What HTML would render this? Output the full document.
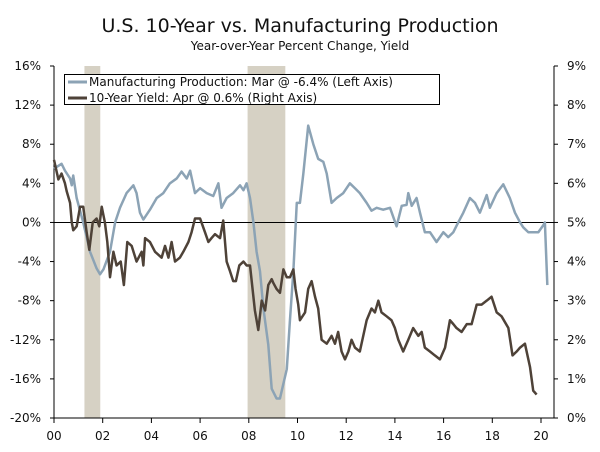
<!DOCTYPE html>
<html><head><meta charset="utf-8"><style>
body{margin:0;background:#fff;}
svg{display:block;font-family:"DejaVu Sans","Liberation Sans",sans-serif;}
</style></head><body>
<svg id="chart" width="600" height="452">
<text x="300" y="32" text-anchor="middle" font-size="19" fill="#111">U.S. 10-Year vs. Manufacturing Production</text>
<text x="300" y="50" text-anchor="middle" font-size="12" fill="#111">Year-over-Year Percent Change, Yield</text>
<g id="bands"></g><g id="axes"></g><g id="lines"></g>
<g>
<rect x="64.5" y="74.5" width="375" height="30" fill="#fff" stroke="#000"/>
<line x1="68" y1="82" x2="87" y2="82" stroke="#8ca3b5" stroke-width="3"/>
<text x="89" y="86" font-size="12" fill="#111">Manufacturing Production: Mar @ -6.4% (Left Axis)</text>
<line x1="68" y1="98" x2="87" y2="98" stroke="#4e4238" stroke-width="3"/>
<text x="89" y="102" font-size="12" fill="#111">10-Year Yield: Apr @ 0.6% (Right Axis)</text>
</g>
</svg>
<script>
const mpYears=[0,.31,.45,.66,.73,.79,.93,1.20,1.48,1.75,1.89,2.03,2.30,2.51,2.71,2.98,3.26,3.39,3.53,3.67,3.94,4.22,4.49,4.76,5.04,5.24,5.45,5.59,5.79,6.00,6.27,6.54,6.75,6.88,7.09,7.36,7.64,7.78,7.91,8.05,8.19,8.32,8.46,8.60,8.80,8.94,9.14,9.28,9.56,9.69,9.83,9.97,10.10,10.24,10.44,10.65,10.85,11.06,11.20,11.40,11.61,11.88,12.15,12.36,12.56,12.84,13.04,13.25,13.52,13.80,14.07,14.28,14.48,14.55,14.69,14.89,15.03,15.23,15.44,15.71,15.99,16.19,16.40,16.60,16.81,17.08,17.29,17.49,17.77,17.90,18.18,18.45,18.72,18.93,19.14,19.27,19.48,19.68,19.89,20.09,20.16,20.26];
const mpValues=[5.5,6,5.3,4.5,3.8,4.8,2.5,0,-3,-4.7,-5.3,-4.8,-3,0,1.5,3,3.8,3,1,0.3,1.3,2.5,3,4,4.5,5.2,4.5,5.3,3,3.5,3,2.7,4,1.5,2.5,3,3.8,3.3,4,2.5,0,-3,-5,-8.8,-12.5,-17,-18,-18,-15,-10,-5,2,2,5,9.9,8,6.5,6.2,5,2,2.5,3,4,3.5,3,2,1.2,1.5,1.3,1.5,-0.4,1.7,1.8,3,1.7,2.5,1,-1,-1,-2,-1,-1.5,-1,0,1,2.5,2,1,2.8,1.5,3,3.9,2.5,1,0,-0.5,-1,-1,-1,-0.3,0,-6.4];
const yYears=[0,.18,.31,.45,.52,.66,.73,.79,.93,1.07,1.20,1.34,1.45,1.59,1.75,1.86,1.96,2.09,2.19,2.30,2.44,2.57,2.74,2.87,3.01,3.19,3.39,3.60,3.67,3.74,3.94,4.15,4.42,4.56,4.70,4.83,4.97,5.17,5.31,5.52,5.65,5.79,6.00,6.20,6.34,6.47,6.61,6.82,6.95,7.09,7.23,7.36,7.47,7.61,7.78,7.91,8.05,8.25,8.39,8.53,8.67,8.80,8.94,9.01,9.14,9.28,9.42,9.56,9.69,9.83,9.92,10.03,10.10,10.31,10.44,10.58,10.72,10.85,10.99,11.20,11.40,11.54,11.67,11.81,11.95,12.09,12.22,12.36,12.56,12.84,13.04,13.18,13.32,13.45,13.66,13.86,14.00,14.14,14.34,14.55,14.75,14.96,15.10,15.23,15.44,15.64,15.85,16.06,16.26,16.40,16.53,16.74,16.95,17.15,17.36,17.56,17.77,17.97,18.18,18.38,18.66,18.83,19.00,19.14,19.34,19.55,19.68,19.82,19.96,20.09,20.23,20.33];
const yValues=[6.6,6.1,6.25,6.0,5.8,5.5,5.0,4.8,4.9,5.4,5.4,4.75,4.3,5.0,5.1,4.9,5.4,5.0,4.5,3.6,4.25,3.9,4.0,3.4,4.5,4.4,4.0,4.25,3.9,4.6,4.5,4.25,4.1,4.4,4.1,4.5,4.0,4.1,4.25,4.5,4.75,5.1,5.1,4.75,4.5,4.6,4.7,4.6,5.05,4.0,3.75,3.5,3.5,3.9,4.0,3.9,3.9,2.75,2.25,3.0,2.75,3.4,3.55,3.45,3.3,3.2,3.8,3.6,3.6,3.8,3.3,2.9,2.5,2.7,3.3,3.5,3.1,2.8,2.0,1.9,2.1,1.9,2.2,1.7,1.5,1.7,2.0,1.8,1.7,2.5,2.8,2.7,3.0,2.7,2.6,2.5,2.3,2.0,1.7,2.0,2.3,2.1,2.2,1.8,1.7,1.6,1.5,1.8,2.5,2.4,2.3,2.2,2.4,2.4,2.9,2.9,3.0,3.1,2.7,2.6,2.3,1.6,1.7,1.8,1.9,1.3,0.7,0.6];
const recessions=[[1.25,1.9],[7.95,9.5]];
const leftTicks=[16,12,8,4,0,-4,-8,-12,-16,-20];
const rightTicks=[9,8,7,6,5,4,3,2,1,0];
const xTicks=["00","02","04","06","08","10","12","14","16","18","20"];
const X0=54,X1=554,T=66,B=418;
const xs=y=>X0+y*24.35;
const yl=v=>T+(16-v)*(B-T)/36;
const yr=v=>T+(9-v)*(B-T)/9;
const NS="http://www.w3.org/2000/svg";
function mk(p,tag,at){const e=document.createElementNS(NS,tag);for(const k in at)e.setAttribute(k,at[k]);p.appendChild(e);return e;}
const bands=document.getElementById('bands'),axes=document.getElementById('axes'),lines=document.getElementById('lines');
recessions.forEach((r,i)=>{const e=mk(bands,'rect',{x:xs(r[0]),y:T,width:xs(r[1])-xs(r[0]),height:B-T,fill:'#d6d1c4'});

});
let e=mk(axes,'line',{x1:X0,y1:yl(0),x2:X1,y2:yl(0),stroke:'#000','stroke-width':1});


e=mk(axes,'path',{d:`M${X0} ${T}V${B}H${X1}V${T}`,fill:'none',stroke:'#000'});


leftTicks.forEach(v=>{mk(axes,'line',{x1:X0-4,x2:X0,y1:yl(v),y2:yl(v),stroke:'#000'});
const t=mk(axes,'text',{x:X0-13,y:yl(v)+4,'text-anchor':'end','font-size':12,fill:'#111'});t.textContent=v+'%';

});
rightTicks.forEach(v=>{mk(axes,'line',{x1:X1,x2:X1+4,y1:yr(v),y2:yr(v),stroke:'#000'});
const t=mk(axes,'text',{x:X1+13,y:yr(v)+4,'font-size':12,fill:'#111'});t.textContent=v+'%';

});
xTicks.forEach((l,i)=>{const x=xs(i*2);mk(axes,'line',{x1:x,x2:x,y1:B,y2:B+5,stroke:'#000'});
const t=mk(axes,'text',{x:x,y:B+22,'text-anchor':'middle','font-size':12,fill:'#111'});t.textContent=l;

});
e=mk(lines,'polyline',{points:mpYears.map((y,i)=>xs(y)+','+yl(mpValues[i])).join(' '),fill:'none',stroke:'#8ca3b5','stroke-width':2.5,'stroke-linejoin':'round'});


e=mk(lines,'polyline',{points:yYears.map((y,i)=>xs(y)+','+yr(yValues[i])).join(' '),fill:'none',stroke:'#4e4238','stroke-width':2.5,'stroke-linejoin':'round'});


</script>
</body></html>
